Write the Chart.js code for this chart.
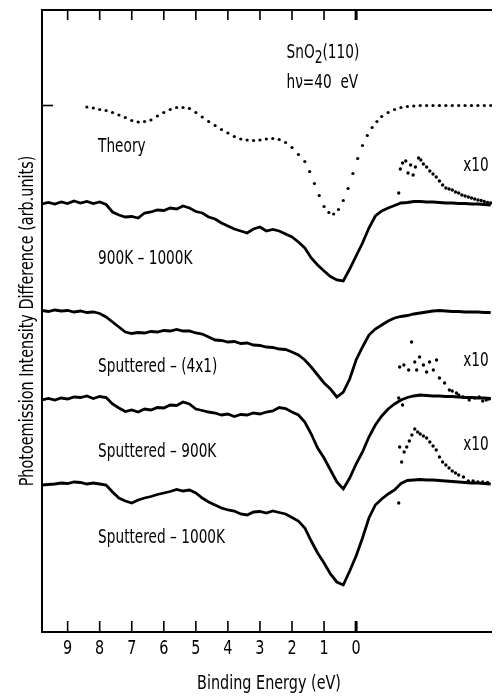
<!DOCTYPE html>
<html>
<head>
<meta charset="utf-8">
<script src="https://cdn.jsdelivr.net/npm/chart.js@4.4.0/dist/chart.umd.min.js"></script>
<style>
  html, body { margin: 0; padding: 0; background: #fff; }
  #wrap { width: 496px; height: 698px; position: relative; }
</style>
</head>
<body>
<div id="wrap"><canvas id="spectraChart"></canvas></div>
<script>
// binding energy grid (eV) for the measured difference spectra
const energies = [9.8, 9.6, 9.4, 9.2, 9.0, 8.8, 8.6, 8.4, 8.2, 8.0,
    7.8, 7.6, 7.4, 7.2, 7.0, 6.8, 6.6, 6.4, 6.2, 6.0,
    5.8, 5.6, 5.4, 5.2, 5.0, 4.8, 4.6, 4.4, 4.2, 4.0,
    3.8, 3.6, 3.4, 3.2, 3.0, 2.8, 2.6, 2.4, 2.2, 2.0,
    1.8, 1.6, 1.4, 1.2, 1.0, 0.8, 0.6, 0.4, 0.2, 0.0,
    -0.2, -0.4, -0.6, -0.8, -1.0, -1.2, -1.4, -1.6, -1.8, -2.0,
    -2.2, -2.4, -2.6, -2.8, -3.0, -3.2, -3.4, -3.6, -3.8, -4.0,
    -4.2];

const tickEnergies = [9, 8, 7, 6, 5, 4, 3, 2, 1, 0];

// vertical offsets (arb. units) of each spectrum: theory, 900K-1000K, 4x1, sp-900K, sp-1000K
const baselines = [52.65, 42.9, 32.1, 23.5, 14.9];
const curveLabels = ['Theory', '900K \u2013 1000K', 'Sputtered \u2013 (4x1)', 'Sputtered \u2013 900K', 'Sputtered \u2013 1000K'];

const theoryEnergies = [8.4, 8.2, 8.0, 7.8, 7.6, 7.4, 7.2, 7.0, 6.8, 6.6,
    6.4, 6.2, 6.0, 5.8, 5.6, 5.4, 5.2, 5.0, 4.8, 4.6,
    4.4, 4.2, 4.0, 3.8, 3.6, 3.4, 3.2, 3.0, 2.8, 2.6,
    2.4, 2.2, 2.0, 1.8, 1.6,
    1.45, 1.3, 1.15, 1.0, 0.85, 0.7, 0.55, 0.4, 0.25, 0.1, -0.05, -0.2, -0.35, -0.5, -0.65,
    -0.8,
    -1.0, -1.2, -1.4, -1.6, -1.8, -2.0, -2.2, -2.4, -2.6, -2.8, -3.0, -3.2, -3.4, -3.6, -3.8, -4.0, -4.2];
const theory = [-0.15, -0.25, -0.4, -0.5, -0.7, -0.95, -1.2, -1.5, -1.65, -1.6,
    -1.45, -1.05, -0.7, -0.4, -0.2, -0.2, -0.3, -0.7, -1.15, -1.6,
    -2.0, -2.4, -2.75, -3.1, -3.35, -3.45, -3.5, -3.45, -3.35, -3.3,
    -3.4, -3.7, -4.2, -4.9, -5.6,
    -6.6, -7.8, -9.0, -10.1, -10.7, -10.85, -10.4, -9.5, -8.3, -6.8, -5.3, -4.0, -3.0, -2.2, -1.6,
    -1.1,
    -0.7, -0.4, -0.2, -0.1, -0.05, 0, 0, 0, 0, 0, 0, 0, 0, 0, 0, 0, 0];

const anneal900to1000 = [-0.1, 0.05, -0.1, 0.1, -0.05, 0.2, 0.0, 0.15, -0.05, 0.1,
    -0.15, -0.9, -1.2, -1.4, -1.35, -1.5, -1.0, -0.9, -0.7, -0.75,
    -0.5, -0.6, -0.3, -0.5, -0.85, -1.0, -1.4, -1.6, -2.0, -2.3,
    -2.6, -2.8, -3.0, -2.6, -2.4, -2.8, -2.65, -2.8, -3.1, -3.4,
    -3.9, -4.5, -5.5, -6.2, -6.8, -7.35, -7.7, -7.8, -6.6, -5.3,
    -4.0, -2.5, -1.3, -0.8, -0.5, -0.25, 0.0, 0.05, 0.15, 0.15,
    0.1, 0.1, 0.05, 0, 0, -0.05, -0.05, -0.1, -0.1, -0.15,
    -0.2];

const sputtered4x1 = [0.05, -0.05, 0.1, 0, 0.05, -0.1, 0, -0.15, -0.1, -0.25,
    -0.6, -1.1, -1.6, -2.1, -2.25, -2.15, -2.2, -2.05, -2.1, -1.95,
    -2.0, -1.85, -2.0, -2.0, -2.2, -2.3, -2.6, -2.9, -2.95, -3.1,
    -3.05, -3.25, -3.2, -3.4, -3.45, -3.6, -3.65, -3.8, -3.85, -4.1,
    -4.4, -4.9, -5.6, -6.4, -7.2, -7.8, -8.6, -8.1, -6.8, -4.9,
    -3.6, -2.4, -1.8, -1.4, -1.0, -0.7, -0.55, -0.45, -0.3, -0.2,
    -0.1, 0, 0.05, 0, -0.05, -0.05, -0.1, -0.1, -0.1, -0.15,
    -0.15];

const sputtered900 = [-0.3, -0.15, -0.3, -0.1, -0.2, 0, -0.05, 0.1, -0.15, 0.05,
    -0.05, -0.7, -1.1, -1.45, -1.3, -1.5, -1.2, -1.3, -1.05, -1.1,
    -0.8, -0.85, -0.5, -0.7, -1.2, -1.35, -1.5, -1.6, -1.8, -1.7,
    -1.95, -1.75, -1.8, -1.6, -1.7, -1.5, -1.4, -1.05, -1.15, -1.5,
    -1.8, -2.5, -3.7, -5.1, -6.1, -7.3, -8.5, -9.2, -8.1, -6.7,
    -5.5, -4.0, -2.8, -1.9, -1.2, -0.7, -0.3, -0.05, 0.1, 0.2,
    0.15, 0.1, 0.1, 0.05, 0.05, 0, -0.05, -0.05, -0.1, -0.1,
    -0.15];

const sputtered1000 = [-0.2, -0.15, -0.1, 0, -0.05, 0.1, 0.05, -0.1, 0, -0.1,
    -0.2, -0.9, -1.5, -1.8, -2.0, -1.7, -1.5, -1.35, -1.15, -1.0,
    -0.85, -0.65, -0.8, -0.7, -1.0, -1.5, -1.9, -2.2, -2.5, -2.7,
    -2.8, -3.1, -3.2, -2.9, -2.85, -3.0, -2.8, -2.95, -3.1, -3.45,
    -3.8, -4.5, -5.8, -7.0, -8.0, -9.1, -9.9, -10.2, -8.8, -7.3,
    -5.5, -3.5, -2.2, -1.6, -1.1, -0.7, -0.05, 0.25, 0.3, 0.35,
    0.3, 0.3, 0.25, 0.2, 0.15, 0.1, 0.05, 0, 0, -0.05,
    -0.1];

// x10 magnified gap-state regions (drawn on the baseline of the spectrum they belong to)
const zoomAEnergies = [-1.33, -1.38, -1.45, -1.55, -1.62, -1.7, -1.78, -1.85, -1.95, -2.02,
    -2.1, -2.2, -2.3, -2.4, -2.5, -2.6, -2.7, -2.8, -2.9, -3.0,
    -3.1, -3.2, -3.3, -3.4, -3.5, -3.6, -3.7, -3.8, -3.9, -4.0, -4.1, -4.2];
const zoomA = [1.0, 3.4, 4.0, 4.2, 3.0, 3.8, 2.8, 3.6, 4.5, 4.3,
    3.9, 3.6, 3.2, 2.9, 2.6, 2.2, 1.8, 1.5, 1.4, 1.3,
    1.1, 1.0, 0.8, 0.7, 0.6, 0.5, 0.4, 0.3, 0.25, 0.15, 0.05, 0.0];

const zoomBEnergies = [-1.33, -1.36, -1.45, -1.49, -1.64, -1.73, -1.83, -1.89, -1.98, -2.1,
    -2.2, -2.29, -2.41, -2.51, -2.6, -2.76, -2.91, -3.0, -3.13, -3.2,
    -3.34, -3.53, -3.7, -3.84, -3.95, -4.06, -4.15];
const zoomB = [-0.1, 3.0, -0.8, 3.2, 2.7, 5.5, 3.5, 2.7, 4.0, 3.2,
    2.5, 3.5, 2.7, 3.7, 1.9, 1.4, 0.7, 0.6, 0.4, 0.2,
    0.0, -0.3, -0.1, 0.0, -0.4, -0.3, -0.2];

const zoomCEnergies = [-1.33, -1.36, -1.42, -1.5, -1.58, -1.66, -1.74, -1.83, -1.92, -2.0,
    -2.1, -2.2, -2.3, -2.4, -2.5, -2.6, -2.7, -2.8, -2.9, -3.0,
    -3.1, -3.2, -3.35, -3.5, -3.65, -3.8, -3.95, -4.1];
const zoomC = [-2.0, 3.6, 2.1, 3.1, 3.6, 4.2, 4.8, 5.4, 5.1, 4.9,
    4.7, 4.5, 4.1, 3.7, 3.3, 2.6, 2.1, 1.8, 1.5, 1.2,
    1.0, 0.8, 0.6, 0.2, 0.2, 0.1, 0.1, 0.05];

const FONT = '"Liberation Sans Narrow", "DejaVu Sans", sans-serif';
const SQUEEZE = 0.72; // no narrow face installed, so compress text horizontally

function toPoints(xs, ys, base) {
    return xs.map((e, i) => ({ x: e, y: base + ys[i] }));
}

function lineSet(label, vals, base) {
    return {
        label: label,
        data: toPoints(energies, vals, base),
        showLine: true,
        borderColor: '#000',
        borderWidth: 2.8,
        pointRadius: 0,
        tension: 0
    };
}

function dotSet(label, xs, vals, base, r) {
    return {
        label: label,
        data: toPoints(xs, vals, base),
        showLine: false,
        pointRadius: r,
        pointBackgroundColor: '#000',
        pointBorderWidth: 0
    };
}

// draws condensed text; returns its drawn width
function text(ctx, str, px, py, size, align) {
    ctx.save();
    ctx.font = size + 'px ' + FONT;
    ctx.textBaseline = 'middle';
    ctx.textAlign = align || 'left';
    ctx.translate(px, py);
    ctx.scale(SQUEEZE, 1);
    ctx.fillText(str, 0, 0);
    const w = ctx.measureText(str).width * SQUEEZE;
    ctx.restore();
    return w;
}

const annotations = {
    id: 'annotations',
    beforeDraw(chart) {
        const ctx = chart.ctx;
        ctx.save();
        ctx.fillStyle = '#fff';
        ctx.fillRect(0, 0, chart.width, chart.height);
        ctx.restore();
    },
    afterDraw(chart) {
        const { ctx, chartArea: a, scales: { x, y } } = chart;
        ctx.save();
        ctx.strokeStyle = '#000';
        ctx.fillStyle = '#000';

        // frame (left, top, bottom)
        ctx.lineWidth = 2;
        ctx.beginPath();
        ctx.moveTo(a.right, a.top);
        ctx.lineTo(a.left, a.top);
        ctx.lineTo(a.left, a.bottom);
        ctx.lineTo(a.right, a.bottom);
        ctx.stroke();

        // inward tick marks and tick labels
        tickEnergies.forEach(v => {
            const px = x.getPixelForValue(v);
            ctx.lineWidth = v === 0 ? 3 : 1.6;
            ctx.beginPath();
            ctx.moveTo(px, a.bottom);
            ctx.lineTo(px, a.bottom - 11);
            ctx.moveTo(px, a.top);
            ctx.lineTo(px, a.top + 10);
            ctx.stroke();
            text(ctx, String(v), px, a.bottom + 17, 20, 'center');
        });
        ctx.lineWidth = 1.6;
        const ty = y.getPixelForValue(baselines[0]);
        ctx.beginPath();
        ctx.moveTo(a.left, ty);
        ctx.lineTo(a.left + 11, ty);
        ctx.stroke();

        text(ctx, 'Binding Energy (eV)', (a.left + a.right) / 2 + 2, a.bottom + 52, 20, 'center');

        // curve labels
        const labelRel = [-4.15, -5.6, -5.6, -5.5, -5.5];
        curveLabels.forEach((t, i) => {
            text(ctx, t, x.getPixelForValue(8.05), y.getPixelForValue(baselines[i] + labelRel[i]), 19);
        });
        [[1, 3.7], [3, 3.6], [4, 3.8]].forEach(([i, rel]) => {
            text(ctx, 'x10', x.getPixelForValue(-3.34), y.getPixelForValue(baselines[i] + rel), 19);
        });

        // sample / photon energy
        let sx = x.getPixelForValue(2.17);
        const sy = y.getPixelForValue(57.9);
        sx += text(ctx, 'SnO', sx, sy, 19);
        sx += text(ctx, '2', sx, sy + 6, 17);
        text(ctx, '(110)', sx, sy, 19);
        text(ctx, 'h\u03bd=40  eV', x.getPixelForValue(2.17), y.getPixelForValue(54.9), 19);

        // y axis title
        ctx.translate(28, (a.top + a.bottom) / 2);
        ctx.rotate(-Math.PI / 2);
        text(ctx, 'Photoemission Intensity Difference (arb.units)', 0, 0, 20, 'center');
        ctx.restore();
    }
};

const ctx = document.getElementById('spectraChart').getContext('2d');
new Chart(ctx, {
    type: 'scatter',
    data: {
        datasets: [
            dotSet('Theory', theoryEnergies, theory, baselines[0], 1.6),
            lineSet(curveLabels[1], anneal900to1000, baselines[1]),
            lineSet(curveLabels[2], sputtered4x1, baselines[2]),
            lineSet(curveLabels[3], sputtered900, baselines[3]),
            lineSet(curveLabels[4], sputtered1000, baselines[4]),
            dotSet('x10 a', zoomAEnergies, zoomA, baselines[1], 1.7),
            dotSet('x10 b', zoomBEnergies, zoomB, baselines[3], 1.7),
            dotSet('x10 c', zoomCEnergies, zoomC, baselines[4], 1.7)
        ]
    },
    options: {
        responsive: true,
        maintainAspectRatio: false,
        animation: false,
        layout: { padding: { left: 42, top: 10, right: 0, bottom: 0 } },
        plugins: {
            legend: { display: false },
            tooltip: { enabled: false }
        },
        scales: {
            x: {
                type: 'linear',
                reverse: true,
                min: -4.24,
                max: 9.8,
                afterBuildTicks: s => { s.ticks = tickEnergies.map(v => ({ value: v })); },
                afterFit: s => { s.height = 66; },
                grid: { display: false },
                border: { display: false },
                ticks: { display: false },
                title: { display: false }
            },
            y: {
                display: false,
                min: 0,
                max: 62.2
            }
        }
    },
    plugins: [annotations]
});
</script>
</body>
</html>
